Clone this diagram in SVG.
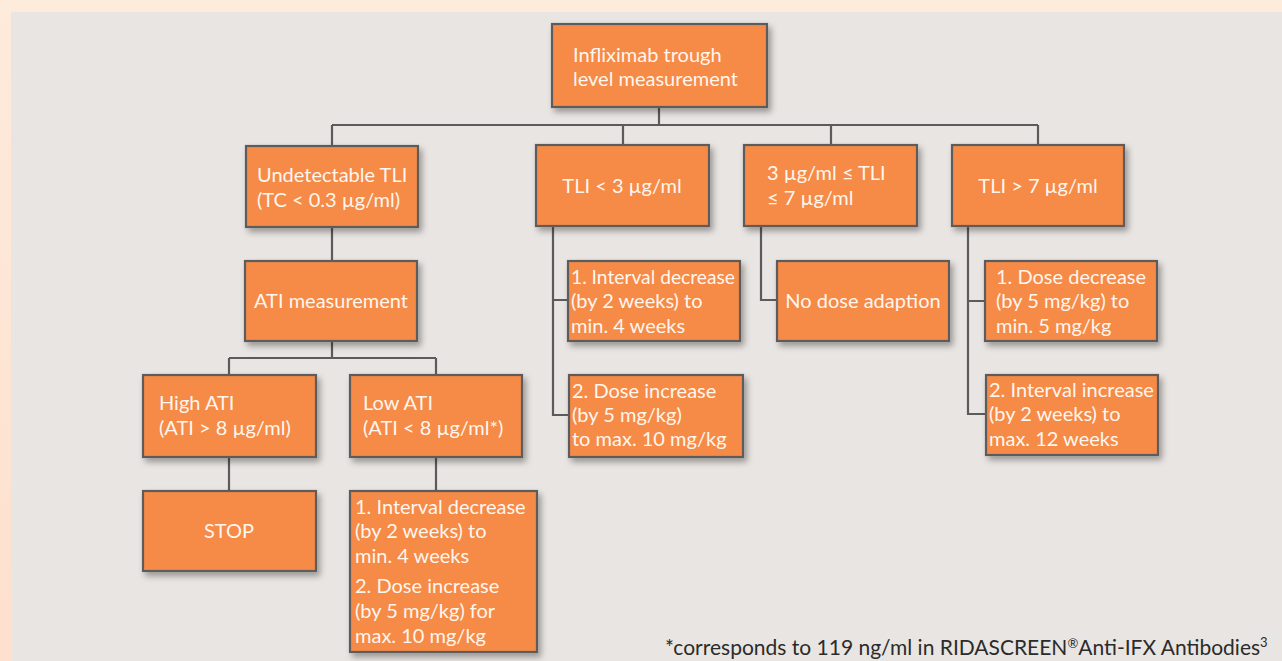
<svg xmlns="http://www.w3.org/2000/svg" width="1282" height="661" viewBox="0 0 1282 661">
<defs>
<linearGradient id="bg" x1="0" y1="0" x2="0" y2="1">
<stop offset="0" stop-color="#fdebdc"/>
<stop offset="1" stop-color="#fde0cd"/>
</linearGradient>
<filter id="sh" x="-10%" y="-10%" width="130%" height="140%">
<feDropShadow dx="3" dy="4" stdDeviation="3" flood-color="#000" flood-opacity="0.35"/>
</filter>
<style>
.box{fill:#f68a47;stroke:#5b5b5b;stroke-width:2.2;filter:url(#sh)}
.t{font-family:Lato,"Open Sans","Noto Sans",sans-serif;font-size:20px;fill:#fff6ee}
.c{text-anchor:middle}
.con{fill:none;stroke:#5b5b5b;stroke-width:2.2}
.fn{font-family:Lato,"Open Sans","Noto Sans",sans-serif;font-size:21px;fill:#2b2b2b}
</style>
</defs>
<rect x="0" y="0" width="1282" height="661" fill="url(#bg)"/>
<rect x="11" y="12" width="1271" height="649" fill="#e9e5e2"/>
<g id="connectors" class="con">
<path d="M659 107V125M332 125H1038M332 125V146M623 125V146M831 125V146M1038 125V146"/>
<path d="M332 227V261M332 341V358M229 358H436M229 358V375M436 358V375M229 457V491M436 457V491"/>
<path d="M553 226V415H569M553 300H568"/>
<path d="M761 226V300H777"/>
<path d="M968 226V414H986M968 301H985"/>
</g>
<g id="root"><rect class="box" x="552" y="24" width="215" height="83"/><text class="t" x="573" y="62">Infliximab trough</text><text class="t" x="573" y="86">level measurement</text></g>
<g id="undetectable"><rect class="box" x="246" y="146" width="172" height="81"/><text class="t" x="257" y="182">Undetectable TLI</text><text class="t" x="257" y="207">(TC &lt; 0.3 µg/ml)</text></g>
<g id="tli-low"><rect class="box" x="536" y="145" width="173" height="81"/><text class="t c" x="622" y="193">TLI &lt; 3 µg/ml</text></g>
<g id="tli-mid"><rect class="box" x="744" y="145" width="173" height="81"/><text class="t" x="767" y="180">3 µg/ml ≤ TLI</text><text class="t" x="767" y="205">≤ 7 µg/ml</text></g>
<g id="tli-high"><rect class="box" x="952" y="145" width="172" height="81"/><text class="t c" x="1038" y="193">TLI &gt; 7 µg/ml</text></g>
<g id="ati"><rect class="box" x="245" y="261" width="172" height="80"/><text class="t c" x="331" y="308">ATI measurement</text></g>
<g id="low-1"><rect class="box" x="568" y="261" width="172" height="80"/><text class="t" x="571" y="284" textLength="164" lengthAdjust="spacingAndGlyphs">1. Interval decrease</text><text class="t" x="571" y="308">(by 2 weeks) to</text><text class="t" x="571" y="333">min. 4 weeks</text></g>
<g id="low-2"><rect class="box" x="569" y="375" width="174" height="82"/><text class="t" x="572" y="398">2. Dose increase</text><text class="t" x="572" y="422">(by 5 mg/kg)</text><text class="t" x="572" y="446">to max. 10 mg/kg</text></g>
<g id="no-dose"><rect class="box" x="777" y="261" width="172" height="80"/><text class="t c" x="863" y="308">No dose adaption</text></g>
<g id="high-1"><rect class="box" x="985" y="261" width="172" height="80"/><text class="t" x="996" y="284">1. Dose decrease</text><text class="t" x="996" y="308">(by 5 mg/kg) to</text><text class="t" x="996" y="333">min. 5 mg/kg</text></g>
<g id="high-2"><rect class="box" x="986" y="375" width="172" height="80"/><text class="t" x="989" y="397">2. Interval increase</text><text class="t" x="989" y="421">(by 2 weeks) to</text><text class="t" x="989" y="446">max. 12 weeks</text></g>
<g id="high-ati"><rect class="box" x="143" y="375" width="173" height="82"/><text class="t" x="159" y="410">High ATI</text><text class="t" x="159" y="435">(ATI &gt; 8 µg/ml)</text></g>
<g id="low-ati"><rect class="box" x="350" y="375" width="172" height="82"/><text class="t" x="363" y="410">Low ATI</text><text class="t" x="363" y="435">(ATI &lt; 8 µg/ml*)</text></g>
<g id="stop"><rect class="box" x="143" y="491" width="173" height="80"/><text class="t c" x="229" y="538">STOP</text></g>
<g id="low-ati-action"><rect class="box" x="350" y="491" width="187" height="161"/><text class="t" x="355" y="514">1. Interval decrease</text><text class="t" x="355" y="538">(by 2 weeks) to</text><text class="t" x="355" y="563">min. 4 weeks</text><text class="t" x="355" y="593">2. Dose increase</text><text class="t" x="355" y="618">(by 5 mg/kg) for</text><text class="t" x="355" y="643">max. 10 mg/kg</text></g>
<text class="fn" x="665" y="655">*corresponds to 119 ng/ml in RIDASCREEN<tspan font-size="13" dy="-7">®</tspan><tspan dy="7">Anti-IFX Antibodies</tspan><tspan font-size="13" dy="-8">3</tspan></text>
</svg>
